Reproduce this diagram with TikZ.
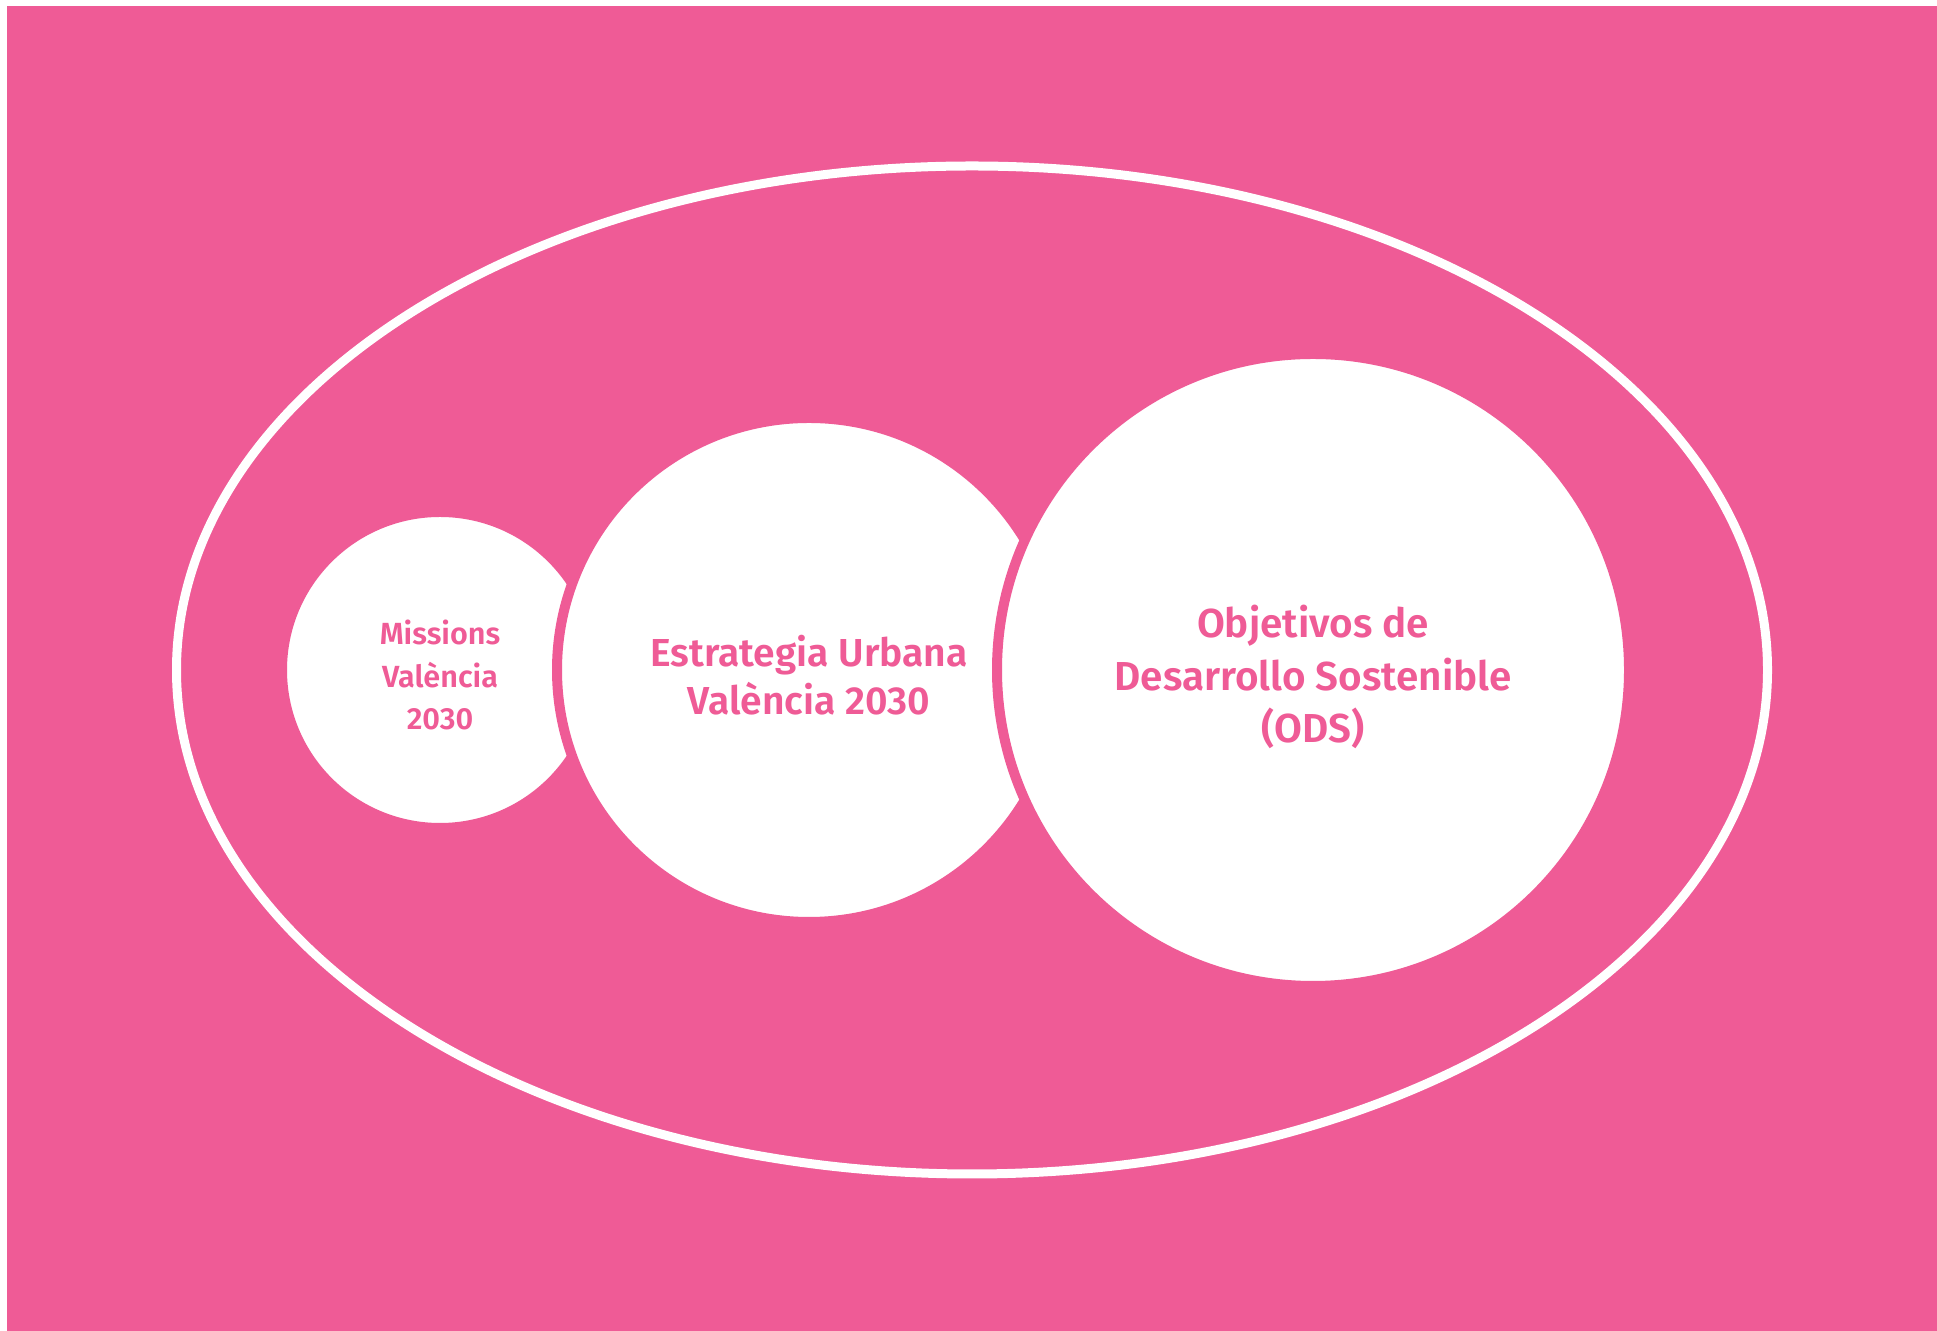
\documentclass[tikz,border=0pt]{standalone}
\usepackage{fontspec}
\newfontfamily\labelfont{Fira Sans}[UprightFont=* SemiBold]
\definecolor{odspink}{RGB}{239,91,150}

\tikzset{
    ring/.style={circle, draw=odspink, line width=0.1cm, fill=white, inner sep=0pt, outer sep=0pt},
    ringtext/.style={align=center, text=odspink, inner sep=0pt},
}

\begin{document}
\begin{tikzpicture}
        \path [fill=white] (0,0) rectangle (19.37,13.31);
        \path [fill=odspink] (0.07,0) rectangle (19.37,13.25);
        \draw [white, line width=0.09cm] (9.72,6.61) ellipse [x radius=7.955, y radius=5.04];
        \node [ring, minimum size=3.16cm] (missions) at (4.40,6.61) {};
        \node [ringtext, font=\labelfont\fontsize{8.7}{12}\selectfont] (missionstext) at ([yshift=-0.05cm]missions.center) {Missions\\València\\2030};
        \node [ring, minimum size=5.04cm] (estrategia) at (8.09,6.61) {};
        \node [ringtext, font=\labelfont\fontsize{11.1}{13.7}\selectfont] (estrategiatext) at ([yshift=-0.05cm]estrategia.center) {Estrategia Urbana\\València 2030};
        \node [ring, minimum size=6.32cm] (ods) at (13.13,6.61) {};
        \node [ringtext, font=\labelfont\fontsize{11.5}{15}\selectfont] (odstext) at ([yshift=-0.07cm]ods.center) {Objetivos de\\Desarrollo Sostenible\\(ODS)};
    \end{tikzpicture}
\end{document}
